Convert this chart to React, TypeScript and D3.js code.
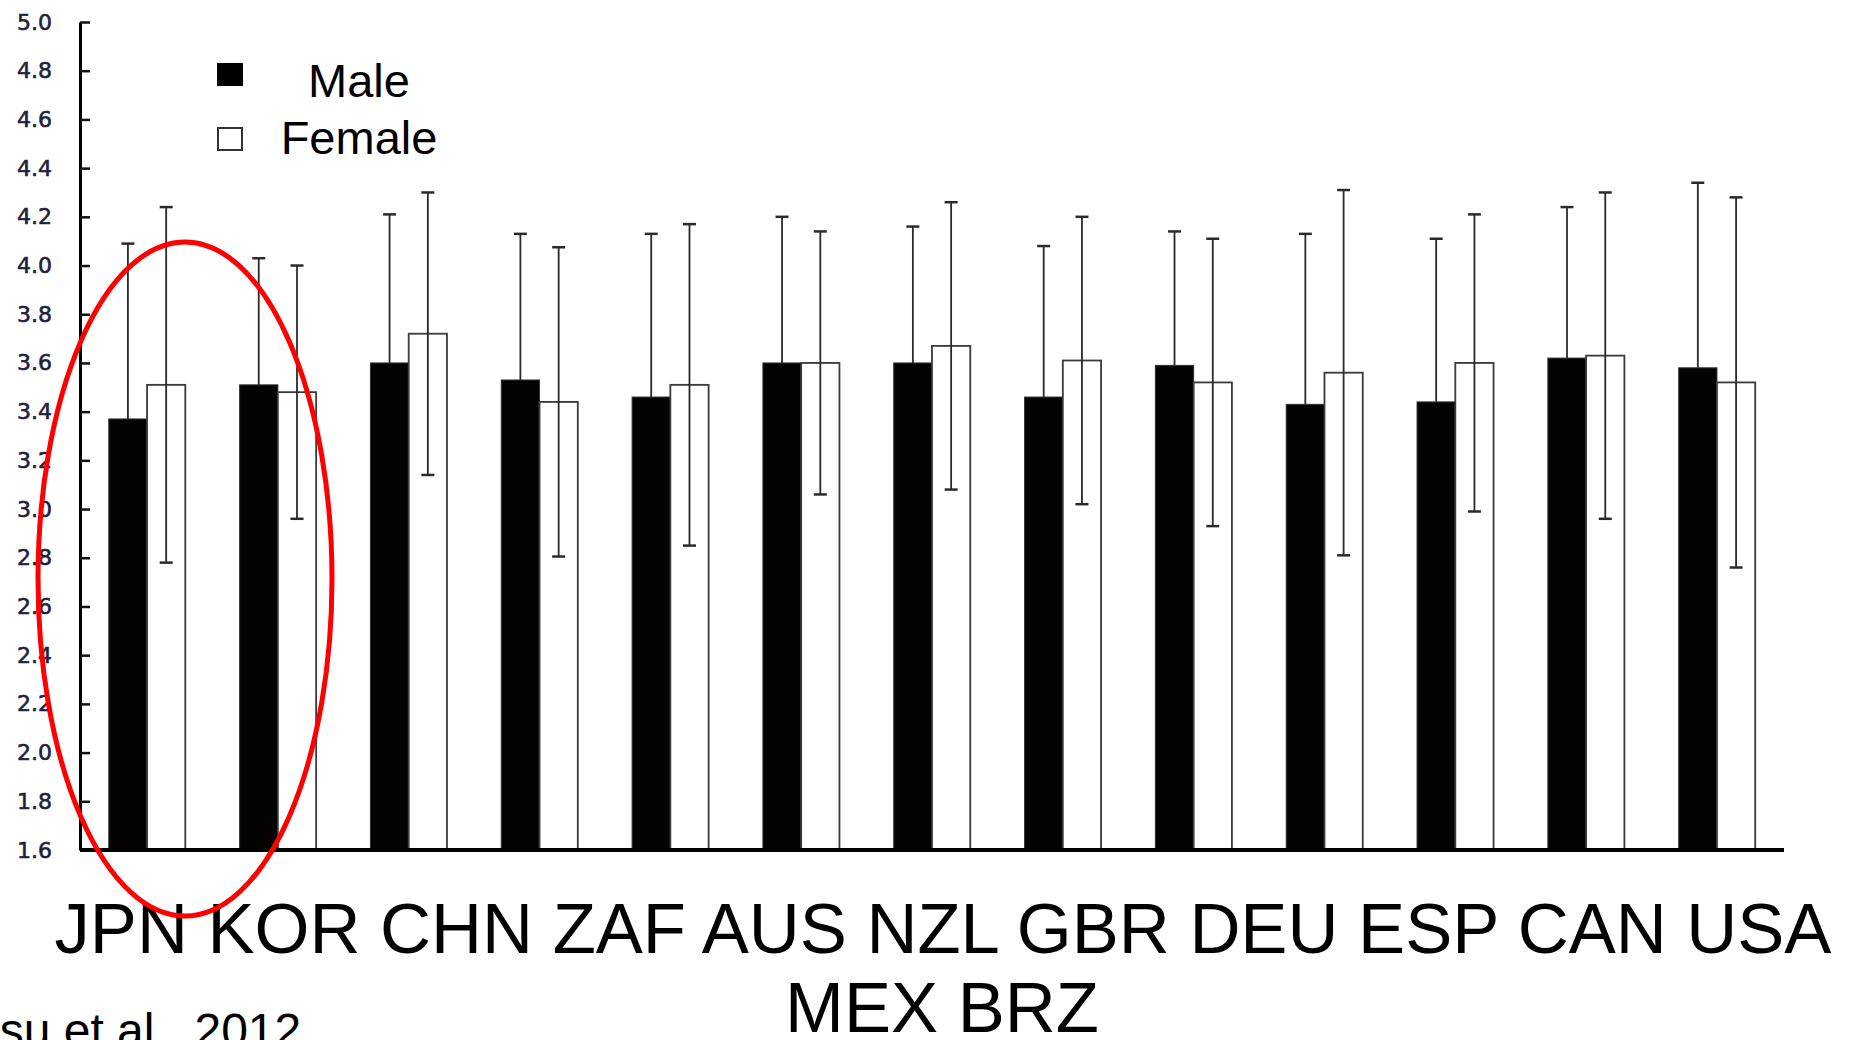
// App.tsx
// grouped bar chart, male vs female score by country, with SD error bars
import * as d3 from "d3";
import React, { useRef, useEffect } from "react";

const categories = ["JPN", "KOR", "CHN", "ZAF", "AUS", "NZL", "GBR", "DEU", "ESP", "CAN", "USA", "MEX", "BRZ"];
const series = ["Male", "Female"];
const maleMean = [3.37, 3.51, 3.6, 3.53, 3.46, 3.6, 3.6, 3.46, 3.59, 3.43, 3.44, 3.62, 3.58];
const maleSd = [0.72, 0.52, 0.61, 0.6, 0.67, 0.6, 0.56, 0.62, 0.55, 0.7, 0.67, 0.62, 0.76];
const femaleMean = [3.51, 3.48, 3.72, 3.44, 3.51, 3.6, 3.67, 3.61, 3.52, 3.56, 3.6, 3.63, 3.52];
const femaleSd = [0.73, 0.52, 0.58, 0.635, 0.66, 0.54, 0.59, 0.59, 0.59, 0.75, 0.61, 0.67, 0.76];
const yTicks = [1.6, 1.8, 2.0, 2.2, 2.4, 2.6, 2.8, 3.0, 3.2, 3.4, 3.6, 3.8, 4.0, 4.2, 4.4, 4.6, 4.8, 5.0];
const source = "Hsu et al., 2012";

const width = 1854;
const height = 1040;

function App() {
  const yAxisRef = useRef<SVGGElement>(null);

  const x = d3.scaleBand()
    .domain(categories)
    .range([80, 1784])
    .paddingInner(0.415)
    .paddingOuter(0.22);
  const xInner = d3.scaleBand()
    .domain(series)
    .range([0, x.bandwidth()]);
  const y = d3.scaleLinear()
    .domain([1.6, 5.0])
    .range([850, 22]);

  useEffect(() => {
    const g = d3.select(yAxisRef.current);
    g.selectAll("*").remove();
    g.call(
      d3.axisLeft(y)
        .tickValues(yTicks)
        .tickSizeInner(-10)
        .tickSizeOuter(0)
        .tickPadding(28)
        .tickFormat(d3.format(".1f"))
    );
    g.select(".domain").attr("stroke", "#000").attr("stroke-width", 3);
    g.selectAll(".tick line").attr("stroke", "#111").attr("stroke-width", 2.5);
    g.selectAll(".tick text")
      .attr("font-family", "DejaVu Sans")
      .attr("font-size", 22)
      .attr("fill", "#1e2140")
      .attr("stroke", "#1e2140")
      .attr("stroke-width", 0.6);
  }, []);

  const rows = categories.map((c, i) => ({
    c,
    bars: [
      { s: "Male", mean: maleMean[i], sd: maleSd[i] },
      { s: "Female", mean: femaleMean[i], sd: femaleSd[i] },
    ],
  }));

  const line1 = categories.slice(0, 11).join(" ");
  const line2 = categories.slice(11).join(" ");

  return (
    <svg width={width} height={height} style={{ position: "absolute", left: 0, top: 0, background: "#fff" }}>
      {/* bars */}
      {rows.map((r) => (
        <g key={r.c} transform={`translate(${x(r.c)},0)`}>
          {r.bars.map((b) => (
            <rect
              key={b.s}
              x={xInner(b.s)}
              y={y(b.mean)}
              width={xInner.bandwidth()}
              height={y(1.6) - y(b.mean)}
              fill={b.s === "Male" ? "#050202" : "#fff"}
              stroke={b.s === "Male" ? "#333" : "#3a3a3a"}
              strokeWidth={b.s === "Male" ? 1 : 1.8}
            />
          ))}
          {/* error bars, the lower half of the male ones is hidden in the black bar */}
          {r.bars.map((b) => {
            const cx = (xInner(b.s) as number) + xInner.bandwidth() / 2;
            const top = y(b.mean + b.sd);
            const bot = y(b.mean - b.sd);
            const male = b.s === "Male";
            return (
              <g key={b.s + "err"} stroke="#2a2a2a" strokeWidth={1.8}>
                <line x1={cx} x2={cx} y1={top} y2={male ? y(b.mean) : bot} />
                <line x1={cx - 6.5} x2={cx + 6.5} y1={top} y2={top} strokeWidth={2.5} />
                {!male && <line x1={cx - 6.5} x2={cx + 6.5} y1={bot} y2={bot} strokeWidth={2.5} />}
              </g>
            );
          })}
        </g>
      ))}

      {/* axes */}
      <g ref={yAxisRef} transform="translate(80,0)" />
      <line x1={80} x2={1784} y1={850} y2={850} stroke="#000" strokeWidth={4} />

      {/* legend */}
      <rect x={217} y={63} width={26} height={23} fill="#000" />
      <rect x={218} y={128} width={24} height={22} fill="#fff" stroke="#333" strokeWidth={2} />
      <g fontFamily="Liberation Sans, Arial, sans-serif" fontSize={47} textAnchor="middle" fill="#000">
        <text x={359} y={97}>{series[0]}</text>
        <text x={359} y={154}>{series[1]}</text>
      </g>

      {/* country labels */}
      <g fontFamily="Liberation Sans, Arial, sans-serif" fontSize={70.6} textAnchor="middle" fill="#000">
        <text x={943} y={953}>{line1}</text>
        <text x={942} y={1032}>{line2}</text>
      </g>

      {/* source */}
      <text x={-35} y={1047} fontFamily="Liberation Sans, Arial, sans-serif" fontSize={48} fill="#000">
        {source}
      </text>

      {/* highlight */}
      <ellipse cx={185} cy={579} rx={147} ry={337} fill="none" stroke="#f00" strokeWidth={5} />
    </svg>
  );
}

export default App;
